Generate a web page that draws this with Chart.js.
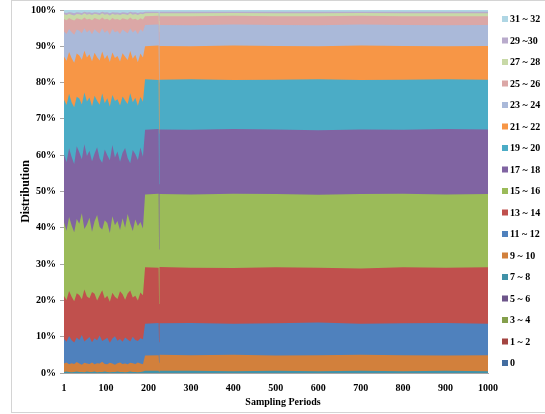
<!DOCTYPE html>
<html>
<head>
<meta charset="utf-8">
<script src="https://cdn.jsdelivr.net/npm/chart.js@4.4.1/dist/chart.umd.min.js"></script>
<style>
  body { margin: 0; background: #fff; }
  #wrap { position: relative; width: 545px; height: 414px; overflow: hidden; }
  #frame { position: absolute; left: 11px; top: 0; width: 545px; height: 413px; border: 1px solid #d4d4d4; box-sizing: border-box; pointer-events: none; }
  #warn { position: absolute; left: 80px; top: 150px; color: red; font: 14px sans-serif; }
</style>
</head>
<body>
<div id="wrap">
  <canvas id="canvas" width="545" height="414"></canvas>
  <div id="frame"></div>
  <div id="warn"></div>
</div>
<script>
// sampling periods where the band edges were read (every 6 periods before the jump at ~190, sparse after)
const periods = [1, 7, 13, 19, 25, 31, 37, 43, 49, 55, 61, 67, 73, 79, 85, 91,
  97, 103, 109, 115, 121, 127, 133, 139, 145, 151, 157, 163, 169, 175, 181, 187,
  192, 224, 225, 226, 300, 400, 500, 600, 700, 800, 900, 1000];

const xTicks = [1, 100, 200, 300, 400, 500, 600, 700, 800, 900, 1000];

const buckets = ['0', '1 ~ 2', '3 ~ 4', '5 ~ 6', '7 ~ 8', '9 ~ 10', '11 ~ 12', '13 ~ 14', '15 ~ 16',
  '17 ~ 18', '19 ~ 20', '21 ~ 22', '23 ~ 24', '25 ~ 26', '27 ~ 28', '29 ~30', '31 ~ 32'];

const colors = ['#436da0', '#a34441', '#849f4c', '#6d558a', '#4092a8', '#d2803c', '#4f81bd', '#c0504d', '#9bbb59',
  '#8064a2', '#4bacc6', '#f79646', '#aab9d9', '#dba7a6', '#c8d9a7', '#b9abcc', '#afd6e4'];

// cumulative distribution (%) up to the top of each bucket = upper edge of its band
// buckets 0, 1~2, 3~4 and 5~6 have no visible share
const cumTo8 = [0.3, 0.4, 0.3, 0.2, 0.3, 0.4, 0.3, 0.3, 0.2, 0.4, 0.3, 0.3, 0.4, 0.2, 0.3, 0.3,
  0.4, 0.3, 0.2, 0.3, 0.3, 0.4, 0.3, 0.3, 0.2, 0.3, 0.4, 0.3, 0.3, 0.2, 0.3, 0.4,
  0.6, 0.6, 0.3, 0.6, 0.6, 0.5, 0.6, 0.5, 0.6, 0.5, 0.6, 0.5];
const cumTo10 = [2.6, 2.9, 2.4, 2.7, 2.5, 3.0, 2.6, 2.3, 2.8, 2.6, 2.5, 2.9, 2.4, 2.7, 2.6, 3.1,
  2.5, 2.4, 2.8, 2.6, 2.3, 2.7, 2.9, 2.5, 2.6, 2.4, 2.8, 2.7, 2.5, 2.9, 2.6, 2.4,
  4.8, 4.9, 2.8, 5.0, 4.9, 5.0, 4.8, 4.9, 5.0, 4.9, 4.8, 4.9];
const cumTo12 = [9.4, 8.6, 10.2, 9.0, 8.4, 9.8, 9.1, 10.5, 8.7, 9.3, 9.9, 8.5, 9.6, 9.0, 10.3, 8.8,
  9.2, 9.7, 8.3, 9.5, 10.1, 8.9, 9.4, 8.6, 9.8, 9.2, 8.7, 10.0, 9.1, 8.8, 9.6, 9.3,
  13.6, 13.8, 8.5, 13.7, 13.8, 13.6, 13.7, 13.9, 13.6, 13.7, 13.8, 13.6];
const cumTo14 = [21.2, 20.1, 22.6, 21.0, 19.8, 22.0, 21.5, 20.3, 23.0, 21.1, 20.6, 22.3, 21.8, 20.0, 21.4, 22.8,
  20.5, 21.3, 19.6, 22.1, 21.0, 20.4, 22.5, 21.7, 20.2, 21.9, 22.7, 20.8, 21.3, 20.0, 22.2, 21.4,
  29.1, 29.0, 19.0, 29.2, 29.0, 28.9, 29.1, 29.0, 28.8, 29.1, 29.0, 29.1];
const cumTo16 = [41.5, 39.2, 43.0, 40.6, 38.8, 42.4, 41.1, 44.0, 39.7, 40.9, 42.8, 38.9, 41.8, 43.5, 40.2, 39.5,
  42.1, 41.3, 38.6, 43.2, 40.7, 41.9, 39.4, 42.6, 40.0, 43.8, 41.2, 39.1, 42.3, 40.5, 41.6, 39.8,
  49.2, 49.4, 34.0, 49.3, 49.2, 49.4, 49.3, 49.1, 49.3, 49.4, 49.2, 49.3];
const cumTo18 = [60.2, 58.1, 61.9, 59.5, 57.6, 62.5, 60.8, 58.9, 63.0, 59.8, 61.2, 58.3, 60.5, 62.2, 59.1, 57.9,
  61.6, 60.0, 58.6, 62.8, 59.4, 61.0, 58.2, 60.7, 62.0, 59.2, 57.8, 61.4, 60.3, 58.7, 62.1, 59.6,
  67.0, 67.2, 52.0, 67.1, 67.0, 67.2, 67.1, 66.9, 67.1, 67.0, 67.2, 67.1];
const cumTo20 = [75.3, 73.8, 76.9, 74.5, 73.2, 76.1, 75.6, 74.0, 77.3, 74.8, 75.9, 73.5, 76.4, 75.0, 73.9, 77.0,
  74.3, 75.7, 73.4, 76.6, 74.9, 75.4, 73.7, 76.2, 75.1, 74.1, 77.1, 74.6, 75.8, 73.6, 76.0, 74.7,
  80.9, 80.7, 66.0, 80.8, 80.9, 80.7, 80.8, 80.9, 80.7, 80.8, 80.9, 80.8];
const cumTo22 = [87.2, 86.0, 88.4, 86.7, 85.5, 88.0, 87.5, 86.3, 88.8, 86.9, 87.8, 85.9, 88.2, 87.0, 86.1, 88.6,
  86.5, 87.6, 85.7, 88.3, 86.8, 87.3, 85.8, 88.1, 87.1, 86.2, 88.7, 86.6, 87.7, 85.6, 88.0, 86.9,
  90.0, 90.2, 80.0, 90.1, 90.0, 90.2, 90.1, 90.0, 90.2, 90.1, 90.0, 90.1];
const cumTo24 = [94.1, 93.4, 94.8, 93.9, 93.2, 94.6, 94.3, 93.6, 95.0, 93.8, 94.5, 93.3, 94.7, 94.0, 93.5, 94.9,
  93.7, 94.4, 93.2, 94.8, 93.9, 94.2, 93.4, 94.6, 94.1, 93.6, 94.9, 93.8, 94.5, 93.3, 94.7, 94.0,
  95.9, 96.0, 89.0, 95.9, 95.8, 96.0, 95.9, 95.8, 96.0, 95.9, 95.8, 95.9];
const cumTo26 = [97.5, 97.2, 97.8, 97.4, 97.1, 97.7, 97.5, 97.3, 97.9, 97.4, 97.6, 97.2, 97.8, 97.5, 97.3, 97.9,
  97.4, 97.6, 97.1, 97.8, 97.4, 97.5, 97.2, 97.7, 97.5, 97.3, 97.9, 97.4, 97.6, 97.2, 97.7, 97.4,
  98.3, 98.4, 94.0, 98.3, 98.3, 98.4, 98.3, 98.3, 98.4, 98.3, 98.3, 98.3];
const cumTo28 = [98.8, 98.6, 99.0, 98.7, 98.5, 98.9, 98.8, 98.6, 99.1, 98.7, 98.9, 98.6, 99.0, 98.8, 98.6, 99.1,
  98.7, 98.9, 98.5, 99.0, 98.7, 98.8, 98.6, 98.9, 98.8, 98.6, 99.1, 98.7, 98.9, 98.6, 99.0, 98.8,
  99.1, 99.2, 97.0, 99.1, 99.1, 99.2, 99.1, 99.1, 99.2, 99.1, 99.1, 99.1];
const cumTo30 = [99.3, 99.2, 99.4, 99.3, 99.1, 99.4, 99.3, 99.2, 99.5, 99.3, 99.4, 99.2, 99.4, 99.3, 99.2, 99.5,
  99.3, 99.4, 99.1, 99.4, 99.3, 99.3, 99.2, 99.4, 99.3, 99.2, 99.5, 99.3, 99.4, 99.2, 99.4, 99.3,
  99.5, 99.5, 98.5, 99.5, 99.5, 99.5, 99.5, 99.5, 99.5, 99.5, 99.5, 99.5];
const cumTo32 = [100, 100, 100, 100, 100, 100, 100, 100, 100, 100, 100, 100, 100, 100, 100, 100,
  100, 100, 100, 100, 100, 100, 100, 100, 100, 100, 100, 100, 100, 100, 100, 100,
  100, 100, 100, 100, 100, 100, 100, 100, 100, 100, 100, 100];

const bandTops = [[], [], [], [], cumTo8, cumTo10, cumTo12, cumTo14, cumTo16,
  cumTo18, cumTo20, cumTo22, cumTo24, cumTo26, cumTo28, cumTo30, cumTo32];

const serif = "'Liberation Serif', 'Times New Roman', serif";
Chart.defaults.font.family = serif;
Chart.defaults.font.weight = 'bold';
Chart.defaults.font.size = 10;
Chart.defaults.color = '#000';

let bad = bandTops.filter(a => a.length && a.length !== periods.length).length;
if (bad) document.getElementById('warn').innerText = bad + ' arrays have wrong length';

// each band is filled from its top edge down to 0; lower bands are drawn over higher ones
const datasets = buckets.map((name, i) => ({
  label: name,
  data: bandTops[i].map((v, j) => ({ x: periods[j], y: v })),
  backgroundColor: colors[i],
  borderColor: 'rgba(0,0,0,0)',
  borderWidth: 0,
  pointRadius: 0,
  tension: 0,
  fill: 'origin'
}));

// legend on the right (highest bucket on top) and the x axis title, which sits right of the plot centre
const sideLegend = {
  id: 'sideLegend',
  afterDraw(chart) {
    const ctx = chart.ctx;
    ctx.save();
    ctx.font = 'bold 10px ' + serif;
    ctx.textBaseline = 'middle';
    for (let k = 0; k < buckets.length; k++) {
      const i = buckets.length - 1 - k;
      const y = 19 + k * 21.5;
      ctx.fillStyle = colors[i];
      ctx.fillRect(502, y - 3, 6, 6);
      ctx.fillStyle = '#000';
      ctx.fillText(buckets[i], 510, y + 0.5);
    }
    ctx.textAlign = 'center';
    ctx.fillText('Sampling Periods', 283, 402);
    ctx.restore();
  }
};

const ctx = document.getElementById('canvas').getContext('2d');
const myChart = new Chart(ctx, {
  type: 'line',
  data: { datasets: datasets },
  options: {
    responsive: false,
    animation: false,
    events: [],
    layout: { padding: { top: 8, right: 57, bottom: 0, left: 0 } },
    plugins: { legend: { display: false }, tooltip: { enabled: false } },
    scales: {
      x: {
        type: 'linear',
        min: 1,
        max: 1000,
        grid: { display: false, drawTicks: false, tickLength: 0 },
        border: { display: true, color: '#a6a6a6' },
        ticks: { padding: 9, autoSkip: false, maxRotation: 0, callback: v => String(v) },
        afterBuildTicks: s => { s.ticks = xTicks.map(v => ({ value: v })); },
        afterFit: s => { s.height = 41; }
      },
      y: {
        min: 0,
        max: 100,
        ticks: { stepSize: 10, padding: 4, callback: v => v + '%' },
        grid: { drawOnChartArea: false, tickLength: 4, color: '#a6a6a6' },
        border: { color: '#a6a6a6' },
        afterFit: s => { s.width = 64; },
        title: { display: true, text: 'Distribution', font: { size: 12, weight: 'bold' }, padding: { top: 19, bottom: 0 } }
      }
    }
  },
  plugins: [sideLegend]
});
</script>
</body>
</html>
